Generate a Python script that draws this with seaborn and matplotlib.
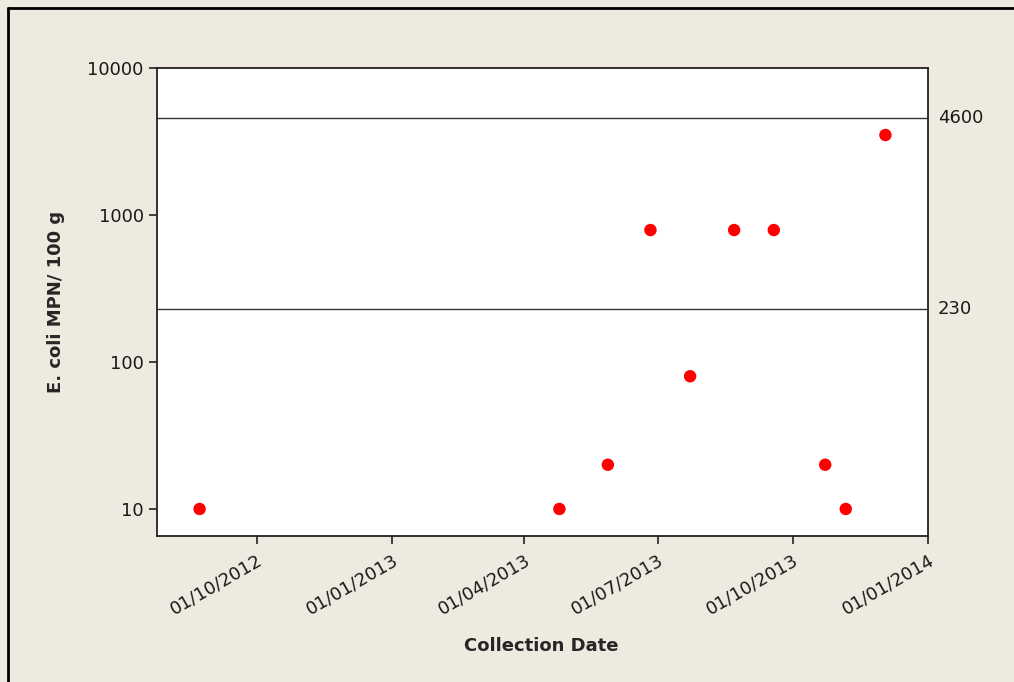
import pandas as pd
import numpy as np
import matplotlib
matplotlib.use("Agg")
import matplotlib.pyplot as plt
import matplotlib.ticker as mticker
from matplotlib.lines import Line2D
import seaborn as sns

# values
collection_dates = ["2012-08-23", "2013-04-25", "2013-05-28", "2013-06-26", "2013-07-23",
                    "2013-08-22", "2013-09-18", "2013-10-23", "2013-11-06", "2013-12-03"]
ecoli_mpn = [10, 10, 20, 790, 80, 790, 790, 20, 10, 3500]
ref_levels = [4600, 230]
tick_dates = ["2012-10-01", "2013-01-01", "2013-04-01", "2013-07-01", "2013-10-01", "2014-01-01"]
y_ticks = [10, 100, 1000, 10000]

df = pd.DataFrame({"date": pd.to_datetime(collection_dates), "mpn": ecoli_mpn})

sns.set_style("white")
plt.rcParams["font.family"] = ["DejaVu Sans"]

bg = "#EEEAE0"
fig = plt.figure(figsize=(10.14, 6.82), dpi=100, facecolor=bg)
ax = fig.add_axes([157 / 1014, 1 - 536 / 682, (928 - 157) / 1014, (536 - 68) / 682])
ax.set_facecolor("white")

sns.scatterplot(data=df, x="date", y="mpn", ax=ax, color="#FF0000", s=80,
                edgecolor="none", zorder=3)

for lv in ref_levels:
    ax.axhline(lv, color="#333333", lw=1.0, zorder=2)
    ax.text(1.013, lv, str(lv), transform=ax.get_yaxis_transform(),
            va="center", ha="left", fontsize=13, color="#1a1a1a")

ax.set_yscale("log")
ax.set_ylim(6.55, 10000)
ax.set_yticks(y_ticks)
ax.yaxis.set_major_formatter(mticker.FuncFormatter(lambda v, p: f"{int(v)}"))
ax.yaxis.set_minor_locator(mticker.NullLocator())

ax.set_xlim(pd.Timestamp("2012-07-25"), pd.Timestamp("2014-01-01"))
ticks = pd.to_datetime(tick_dates)
ax.set_xticks(ticks)
ax.set_xticklabels([t.strftime("%d/%m/%Y") for t in ticks], rotation=30,
                   ha="right", rotation_mode="anchor")

ax.tick_params(axis="both", which="major", direction="out", length=6, width=1.2,
               color="#222222", labelsize=13, labelcolor="#1a1a1a",
               left=True, bottom=True, right=False, top=False)
ax.tick_params(axis="x", pad=5)

for sp in ax.spines.values():
    sp.set_color("#222222")
    sp.set_linewidth(1.3)

ax.set_xlabel("Collection Date", fontsize=13, fontweight="bold")
ax.set_ylabel("E. coli MPN/ 100 g", fontsize=13, fontweight="bold", labelpad=16)
ax.xaxis.set_label_coords((541 - 157) / (928 - 157), -0.215)

# frame lines on left and top of the picture
fig.add_artist(Line2D([8 / 1014, 8 / 1014], [0, 1 - 8 / 682], color="black", lw=2))
fig.add_artist(Line2D([8 / 1014, 1], [1 - 8 / 682, 1 - 8 / 682], color="black", lw=2))

fig.savefig("out.png", dpi=100, facecolor=bg)
